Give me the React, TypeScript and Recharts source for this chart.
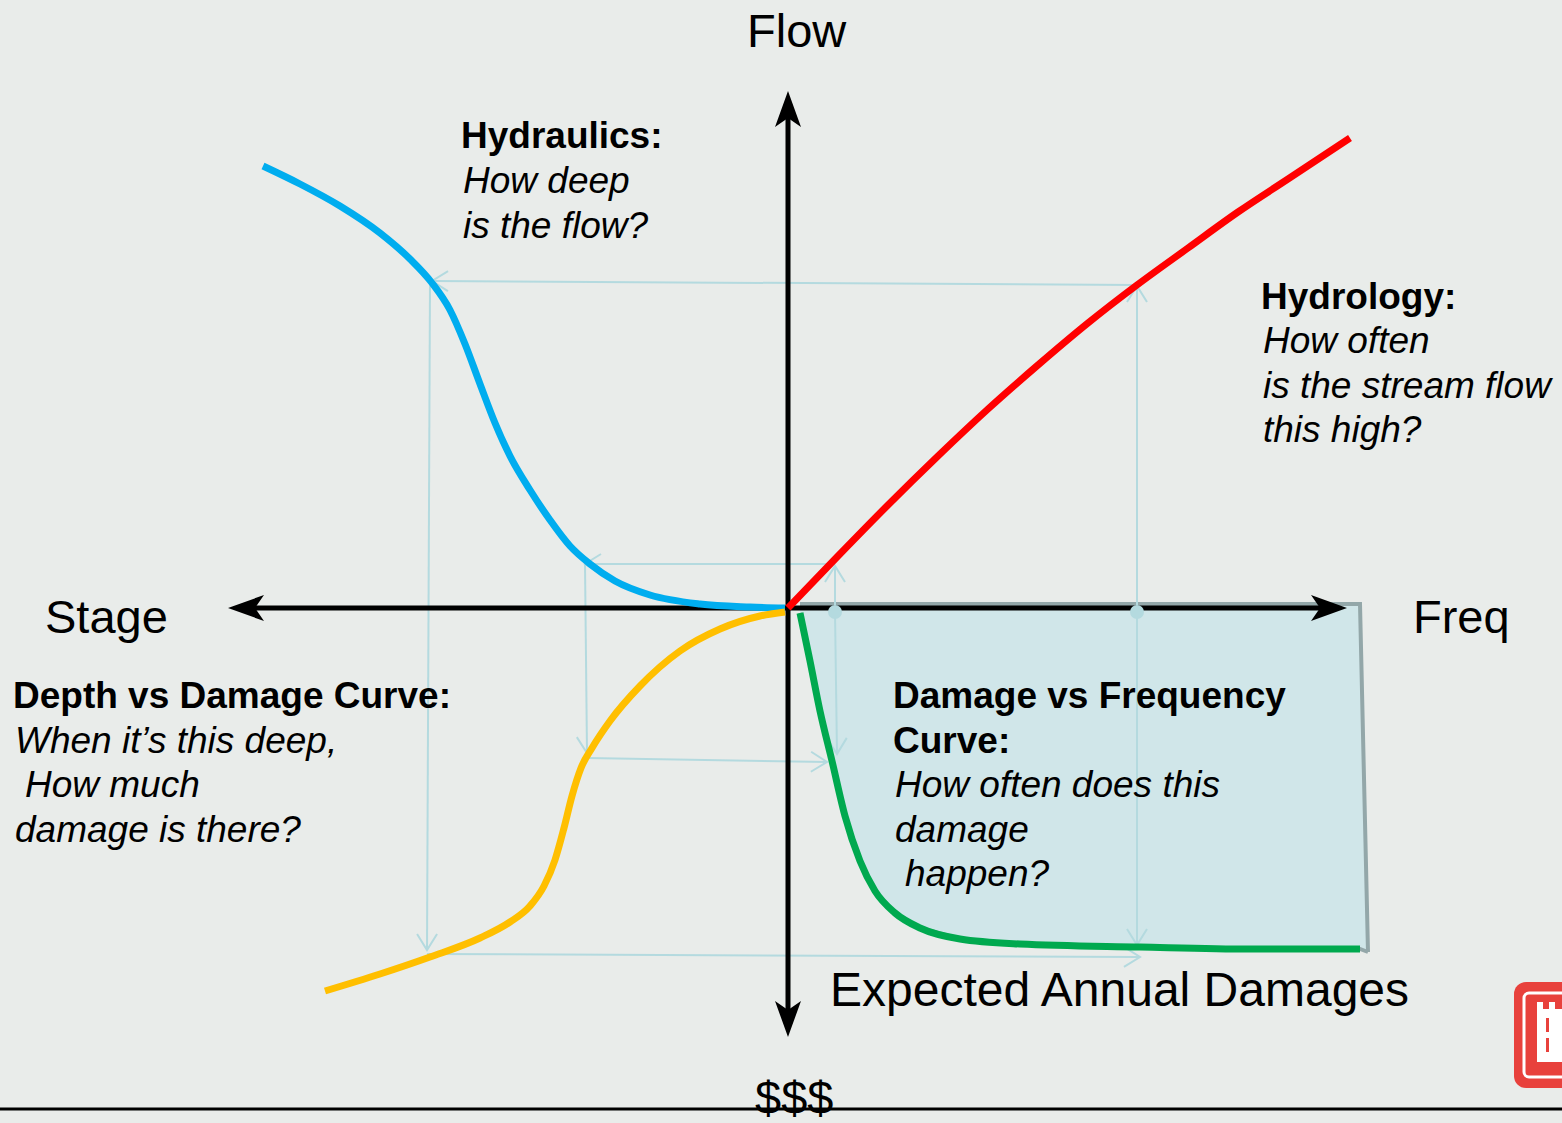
import React from 'react';
import {
  ComposedChart,
  Line,
  Area,
  Scatter,
  XAxis,
  YAxis,
} from 'recharts';

// curves, in diagram units (origin = where the axes cross)
const hydraulics = [
  { x: -5.25, y: 4.42 },
  { x: -4.88, y: 4.24 },
  { x: -4.48, y: 4.02 },
  { x: -4.08, y: 3.75 },
  { x: -3.78, y: 3.49 },
  { x: -3.56, y: 3.25 },
  { x: -3.38, y: 2.98 },
  { x: -3.23, y: 2.64 },
  { x: -3.08, y: 2.24 },
  { x: -2.93, y: 1.85 },
  { x: -2.78, y: 1.52 },
  { x: -2.58, y: 1.18 },
  { x: -2.38, y: 0.88 },
  { x: -2.18, y: 0.62 },
  { x: -1.98, y: 0.44 },
  { x: -1.73, y: 0.27 },
  { x: -1.38, y: 0.13 },
  { x: -0.88, y: 0.04 },
  { x: -0.38, y: 0.01 },
  { x: -0.03, y: 0.0 },
];

const hydrology = [
  { x: 0.0, y: 0.0 },
  { x: 0.5, y: 0.52 },
  { x: 1.0, y: 1.03 },
  { x: 1.5, y: 1.52 },
  { x: 2.0, y: 1.99 },
  { x: 2.5, y: 2.43 },
  { x: 3.0, y: 2.85 },
  { x: 3.49, y: 3.23 },
  { x: 4.0, y: 3.6 },
  { x: 4.5, y: 3.96 },
  { x: 5.0, y: 4.29 },
  { x: 5.62, y: 4.7 },
];

const depthDamage = [
  { x: -4.63, y: -3.83 },
  { x: -4.08, y: -3.66 },
  { x: -3.58, y: -3.49 },
  { x: -3.08, y: -3.3 },
  { x: -2.78, y: -3.14 },
  { x: -2.58, y: -2.98 },
  { x: -2.44, y: -2.78 },
  { x: -2.33, y: -2.52 },
  { x: -2.24, y: -2.2 },
  { x: -2.16, y: -1.88 },
  { x: -2.07, y: -1.6 },
  { x: -1.96, y: -1.4 },
  { x: -1.78, y: -1.13 },
  { x: -1.48, y: -0.78 },
  { x: -1.08, y: -0.43 },
  { x: -0.68, y: -0.21 },
  { x: -0.28, y: -0.08 },
  { x: -0.03, y: -0.04 },
];

const damageFreq = [
  { x: 0.12, y: -0.05 },
  { x: 0.22, y: -0.53 },
  { x: 0.32, y: -1.03 },
  { x: 0.44, y: -1.53 },
  { x: 0.57, y: -2.08 },
  { x: 0.72, y: -2.53 },
  { x: 0.87, y: -2.83 },
  { x: 1.07, y: -3.05 },
  { x: 1.32, y: -3.2 },
  { x: 1.72, y: -3.31 },
  { x: 2.32, y: -3.36 },
  { x: 3.52, y: -3.39 },
  { x: 4.62, y: -3.41 },
  { x: 5.72, y: -3.41 },
];

// shaded expected annual damages region: [bottom, top]
const eadRegion = [
  ...damageFreq.map((p) => ({ x: p.x, range: [p.y, 0.04] })),
  { x: 5.8, range: [-3.44, -3.44] },
];

// guide arrows between the quadrants
const guides = [
  [{ x: 3.49, y: 3.23 }, { x: -3.56, y: 3.27 }],
  [{ x: 3.49, y: -0.04 }, { x: 3.49, y: 3.22 }],
  [{ x: 3.49, y: -0.04 }, { x: 3.49, y: -3.37 }],
  [{ x: -3.58, y: 3.26 }, { x: -3.61, y: -3.42 }],
  [{ x: -3.61, y: -3.46 }, { x: 3.52, y: -3.49 }],
  [{ x: 0.47, y: -0.04 }, { x: 0.47, y: 0.42 }],
  [{ x: 0.47, y: 0.44 }, { x: -2.03, y: 0.44 }],
  [{ x: -2.03, y: 0.44 }, { x: -2.01, y: -1.45 }],
  [{ x: -2.01, y: -1.5 }, { x: 0.39, y: -1.54 }],
  [{ x: 0.47, y: -0.04 }, { x: 0.49, y: -1.46 }],
];

const guideDots = [
  { x: 0.47, y: -0.04 },
  { x: 3.49, y: -0.04 },
];

// axis lines and their arrow tips
const axes = [
  [{ x: 0, y: -4.2 }, { x: 0, y: 5.07 }],
  [{ x: -5.5, y: 0 }, { x: 5.49, y: 0 }],
];
const axisTips = [
  { x: 0, y: 5.17, angle: -90 },
  { x: 0, y: -4.29, angle: 90 },
  { x: -5.6, y: 0, angle: 180 },
  { x: 5.59, y: 0, angle: 0 },
];

const font = '"Liberation Sans", Arial, sans-serif';
const guideColor = '#b4dadf';

const AxisTip = (p: any) => (
  <path
    d="M0,0 L-36,-13 L-27,0 L-36,13 Z"
    fill="#000"
    transform={`translate(${p.cx},${p.cy}) rotate(${p.payload.angle})`}
  />
);

export default function App() {
  return (
    <div
      style={{
        position: 'absolute',
        left: 0,
        top: 0,
        width: 1562,
        height: 1123,
        background: '#e9ecea',
        overflow: 'hidden',
      }}
    >
      <ComposedChart
        width={1562}
        height={1123}
        margin={{ top: 0, right: 0, bottom: 0, left: 0 }}
      >
        <defs>
          <marker
            id="guideHead"
            viewBox="-2 -2 20 24"
            refX={16}
            refY={10}
            markerWidth={20}
            markerHeight={24}
            markerUnits="userSpaceOnUse"
            orient="auto"
          >
            <path d="M0,0 L16,10 L0,20" fill="none" stroke={guideColor} strokeWidth={2} />
          </marker>
        </defs>
        <XAxis type="number" dataKey="x" domain={[-7.88, 7.74]} allowDataOverflow hide />
        <YAxis type="number" dataKey="y" domain={[-5.15, 6.08]} allowDataOverflow hide />

        <Area
          data={eadRegion}
          dataKey="range"
          type="linear"
          fill="#cde6e9"
          fillOpacity={0.9}
          stroke="#93a7a9"
          strokeWidth={4}
          isAnimationActive={false}
        />

        {guides.map((g, i) => (
          <Line
            key={`g${i}`}
            data={g}
            dataKey="y"
            type="linear"
            stroke={guideColor}
            strokeWidth={2}
            dot={false}
            markerEnd="url(#guideHead)"
            isAnimationActive={false}
          />
        ))}
        <Scatter
          data={guideDots}
          dataKey="y"
          fill={guideColor}
          shape={(p: any) => <circle cx={p.cx} cy={p.cy} r={7} fill={guideColor} />}
          isAnimationActive={false}
        />

        {axes.map((a, i) => (
          <Line
            key={`a${i}`}
            data={a}
            dataKey="y"
            type="linear"
            stroke="#000"
            strokeWidth={5}
            dot={false}
            isAnimationActive={false}
          />
        ))}
        <Scatter data={axisTips} dataKey="y" fill="#000" shape={AxisTip} isAnimationActive={false} />

        <Line data={hydraulics} dataKey="y" type="monotone" stroke="#00adef" strokeWidth={7} dot={false} isAnimationActive={false} />
        <Line data={depthDamage} dataKey="y" type="monotone" stroke="#ffbf00" strokeWidth={7} dot={false} isAnimationActive={false} />
        <Line data={damageFreq} dataKey="y" type="monotone" stroke="#00a94f" strokeWidth={7} dot={false} isAnimationActive={false} />
        <Line data={hydrology} dataKey="y" type="monotone" stroke="#ff0000" strokeWidth={7} dot={false} isAnimationActive={false} />
      </ComposedChart>

      <svg
        width={1562}
        height={1123}
        style={{ position: 'absolute', left: 0, top: 0, pointerEvents: 'none' }}
      >
        <line x1={0} y1={1109} x2={1562} y2={1109} stroke="#000" strokeWidth={3} />

        <g fontFamily={font} fill="#000">
          <text x={747} y={47} fontSize={47}>Flow</text>
          <text x={45} y={633} fontSize={47}>Stage</text>
          <text x={1413} y={633} fontSize={47}>Freq</text>
          <text x={830} y={1006} fontSize={48}>Expected Annual Damages</text>
          <text x={755} y={1114} fontSize={47}>$$$</text>

          <g fontSize={37}>
            <text x={461} y={148} fontWeight="bold">Hydraulics:</text>
            <text x={463} y={193} fontStyle="italic">How deep</text>
            <text x={463} y={238} fontStyle="italic">is the flow?</text>

            <text x={1261} y={309} fontWeight="bold">Hydrology:</text>
            <text x={1263} y={353} fontStyle="italic">How often</text>
            <text x={1263} y={398} fontStyle="italic">is the stream flow</text>
            <text x={1263} y={442} fontStyle="italic">this high?</text>

            <text x={13} y={708} fontWeight="bold">Depth vs Damage Curve:</text>
            <text x={15} y={753} fontStyle="italic">When it’s this deep,</text>
            <text x={25} y={797} fontStyle="italic">How much</text>
            <text x={15} y={842} fontStyle="italic">damage is there?</text>

            <text x={893} y={708} fontWeight="bold">Damage vs Frequency</text>
            <text x={893} y={753} fontWeight="bold">Curve:</text>
            <text x={895} y={797} fontStyle="italic">How often does this</text>
            <text x={895} y={842} fontStyle="italic">damage</text>
            <text x={905} y={886} fontStyle="italic">happen?</text>
          </g>
        </g>

        <g>
          <rect x={1514} y={982} width={80} height={106} rx={12} fill="#e8413c" />
          <rect x={1524} y={993} width={70} height={84} rx={5} fill="none" stroke="#fff" strokeWidth={3} />
          <path d="M1537,1002 h6 v7 h6 v-7 h6 v7 h7 v-7 h6 v60 h-31 z" fill="#fff" />
          <rect x={1546} y={1018} width={3} height={14} fill="#e8413c" />
          <rect x={1546} y={1038} width={3} height={14} fill="#e8413c" />
        </g>
      </svg>
    </div>
  );
}
